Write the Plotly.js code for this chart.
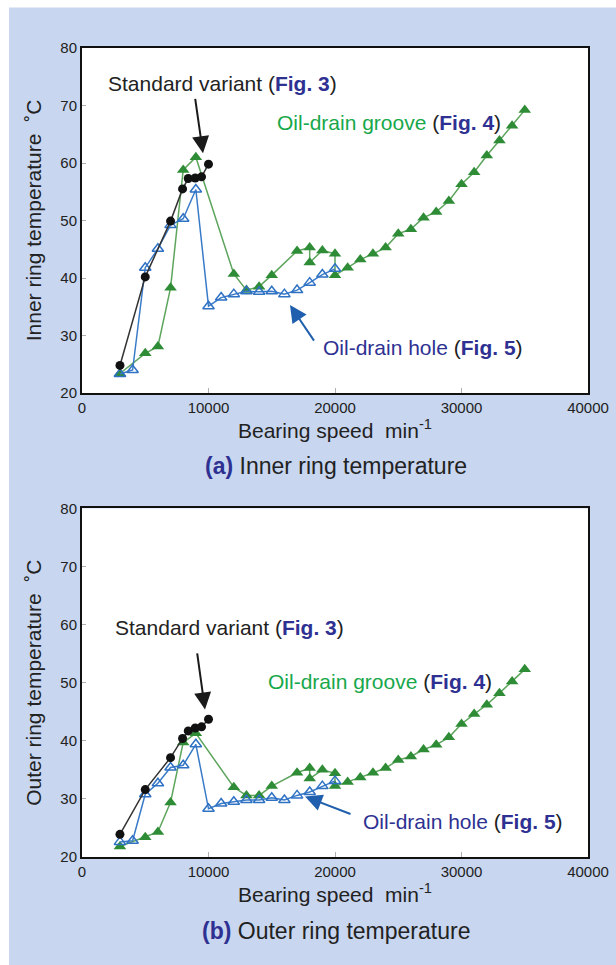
<!DOCTYPE html>
<html>
<head>
<meta charset="utf-8">
<script src="https://cdn.plot.ly/plotly-3.0.1.min.js"></script>
<style>html,body{margin:0;padding:0;background:#fff;}#chart{width:616px;height:965px;}</style>
</head>
<body>
<div id="chart"></div>
<script>
// ---- data ----
const speedStd = [3000, 5000, 7000, 7950, 8400, 8950, 9450, 10000];
const innerStd = [24.8, 40.2, 49.9, 55.5, 57.3, 57.4, 57.6, 59.8];
const outerStd = [23.9, 31.6, 37.1, 40.4, 41.7, 42.2, 42.4, 43.7];

const speedGroove = [3000, 5000, 6000, 7000, 8000, 9000, 12000, 13000, 14000, 15000,
  17000, 18000, 18000, 19000, 20000, 20000, 21000, 22000, 23000, 24000, 25000,
  26000, 27000, 28000, 29000, 30000, 31000, 32000, 33000, 34000, 35000];
const innerGroove = [23.4, 26.9, 28.1, 38.3, 58.8, 61.0, 40.7, 37.9, 38.5, 40.5,
  44.7, 45.3, 42.7, 44.8, 44.2, 40.5, 41.8, 43.2, 44.2, 45.3, 47.7,
  48.5, 50.5, 51.5, 53.4, 56.3, 58.4, 61.3, 63.9, 66.5, 69.2];
const outerGroove = [21.8, 23.4, 24.3, 29.4, 39.7, 41.3, 32.0, 30.6, 30.6, 32.2,
  34.5, 35.3, 33.5, 35.0, 34.4, 32.2, 32.9, 33.7, 34.5, 35.3, 36.7,
  37.3, 38.5, 39.3, 40.6, 42.9, 44.6, 46.2, 48.2, 50.2, 52.3];

const speedHole = [3000, 4000, 5000, 6000, 7000, 8000, 9000, 10000, 11000, 12000,
  13000, 14000, 15000, 16000, 17000, 18000, 19000, 20000];
const innerHole = [23.3, 24.0, 41.8, 45.1, 49.2, 50.3, 55.4, 35.1, 36.6, 37.2,
  37.7, 37.6, 37.7, 37.2, 37.9, 39.2, 40.6, 41.6];
const outerHole = [22.6, 22.8, 30.8, 32.7, 35.4, 35.8, 39.4, 28.3, 29.2, 29.5,
  29.8, 29.8, 30.2, 29.8, 30.6, 31.2, 32.2, 33.1];

const xTickVals = [0, 10000, 20000, 30000, 40000];
const xTickText = ['0', '10000', '20000', '30000', '40000'];
const yTickVals = [20, 30, 40, 50, 60, 70, 80];
const yTickText = ['20', '30', '40', '50', '60', '70', '80'];
const xTitle = 'Bearing speed\u00a0\u00a0min<sup>-1</sup>';
const yTitleInner = 'Inner ring temperature \u00a0\u02daC';
const yTitleOuter = 'Outer ring temperature \u00a0\u02daC';
const captionA = '<b><span style="color:#2e3192">(a)</span></b> Inner ring temperature';
const captionB = '<b><span style="color:#2e3192">(b)</span></b> Outer ring temperature';
const NAVY = '#2e3192';
const labelStd = 'Standard variant (<b><span style="color:' + NAVY + '">Fig.\u00a03</span></b>)';
const labelGroove = '<span style="color:#17a84b">Oil-drain groove</span> (<b><span style="color:' + NAVY + '">Fig.\u00a04</span></b>)';
const labelHole = '<span style="color:' + NAVY + '">Oil-drain hole</span> (<b><span style="color:' + NAVY + '">Fig.\u00a05</span></b>)';

// ---- styles ----
const FONT = 'Liberation Sans, Arial, Helvetica, sans-serif';
const stdStyle = {mode: 'lines+markers', line: {color: '#333', width: 1.5},
  marker: {symbol: 'circle', size: 9, color: '#111'}};
const grooveStyle = {mode: 'lines+markers', line: {color: '#5da55d', width: 1.5},
  marker: {symbol: 'triangle-up', size: 11, color: '#2f8c36'}};
const holeStyle = {mode: 'lines+markers', line: {color: '#3a7bc8', width: 1.5},
  marker: {symbol: 'triangle-up-open', size: 10, color: '#2f72c4', line: {width: 1.5}}};

function tr(x, y, style, xa, ya, name) {
  return Object.assign({type: 'scatter', x: x, y: y, xaxis: xa, yaxis: ya, name: name,
    showlegend: false, hoverinfo: 'x+y'}, JSON.parse(JSON.stringify(style)));
}

const data = [
  tr(speedGroove, innerGroove, grooveStyle, 'x', 'y', 'Oil-drain groove'),
  tr(speedHole, innerHole, holeStyle, 'x', 'y', 'Oil-drain hole'),
  tr(speedStd, innerStd, stdStyle, 'x', 'y', 'Standard variant'),
  tr(speedGroove, outerGroove, grooveStyle, 'x2', 'y2', 'Oil-drain groove'),
  tr(speedHole, outerHole, holeStyle, 'x2', 'y2', 'Oil-drain hole'),
  tr(speedStd, outerStd, stdStyle, 'x2', 'y2', 'Standard variant')
];

function xAxis(anchor) {
  return {anchor: anchor, domain: [0, 1], range: [0, 40000], tickmode: 'array',
    tickvals: xTickVals, ticktext: xTickText,
    ticks: 'inside', ticklen: 5, tickcolor: '#b0b0b0', showline: true, linecolor: '#111',
    linewidth: 2, mirror: true, showgrid: false, zeroline: false, fixedrange: true,
    tickfont: {family: FONT, size: 15, color: '#222'},
    title: {text: xTitle, font: {family: FONT, size: 21, color: '#222'}, standoff: 8}};
}
function yAxis(anchor, dom, title) {
  return {anchor: anchor, domain: dom, range: [20, 80], tickmode: 'array',
    tickvals: yTickVals, ticktext: yTickText,
    ticks: 'inside', ticklen: 4, tickcolor: '#b0b0b0', showline: true, linecolor: '#111',
    linewidth: 2, mirror: true, showgrid: false, zeroline: false, fixedrange: true,
    tickfont: {family: FONT, size: 15, color: '#222'},
    title: {text: title, font: {family: FONT, size: 21, color: '#222'}, standoff: 13}};
}

function arrow(x, y, ax, ay, xr, yr, color) {
  return {x: x, y: y, ax: ax, ay: ay, xref: xr, yref: yr, axref: xr, ayref: yr,
    text: '', showarrow: true, arrowhead: 2, arrowsize: 1.7, arrowwidth: 2, arrowcolor: color};
}
function label(text, x, y, xr, yr) {
  return {text: text, x: x, y: y, xref: xr, yref: yr, showarrow: false,
    font: {family: FONT, size: 21, color: '#222'}, xanchor: 'center', yanchor: 'middle'};
}

const layout = {
  width: 616, height: 965,
  margin: {l: 82, r: 28, t: 47.5, b: 107.5, autoexpand: false},
  paper_bgcolor: '#c8d6ef', plot_bgcolor: '#ffffff',
  font: {family: FONT, color: '#222'},
  showlegend: false,
  xaxis: xAxis('y'),
  yaxis: yAxis('x', [0.5735, 1], yTitleInner),
  xaxis2: xAxis('y2'),
  yaxis2: yAxis('x2', [0, 0.4309], yTitleOuter),
  shapes: [
    {type: 'rect', xref: 'paper', yref: 'paper', x0: -0.2, x1: (9 - 82) / 506, y0: -0.2, y1: 1.2,
      fillcolor: '#ffffff', line: {width: 0}, layer: 'below'},
    {type: 'rect', xref: 'paper', yref: 'paper', x0: -0.2, x1: 1.2, y0: (857.5 - 7) / 810, y1: 1.2,
      fillcolor: '#ffffff', line: {width: 0}, layer: 'below'}
  ],
  annotations: [
    label(labelStd, 11067, 73.8, 'x', 'y'),
    arrow(9565, 61.7, 8933, 71.4, 'x', 'y', '#1a1a1a'),
    label(labelGroove, 24229, 67.1, 'x', 'y'),
    label(labelHole, 26957, 28.0, 'x', 'y'),
    arrow(16443, 35.3, 18419, 28.85, 'x', 'y', '#1f5fae'),
    label(labelStd, 11621, 59.45, 'x2', 'y2'),
    arrow(9723, 45.4, 9091, 55.3, 'x2', 'y2', '#1a1a1a'),
    label(labelGroove, 23557, 50.2, 'x2', 'y2'),
    label(labelHole, 30119, 26.05, 'x2', 'y2'),
    arrow(17628, 30.4, 21344, 27.3, 'x2', 'y2', '#1f5fae'),
    {text: captionA, x: 0.502, y: (857.5 - 466) / 810, xref: 'paper', yref: 'paper',
      showarrow: false, font: {family: FONT, size: 23, color: '#222'}, xanchor: 'center', yanchor: 'middle'},
    {text: captionB, x: 0.502, y: (857.5 - 932) / 810, xref: 'paper', yref: 'paper',
      showarrow: false, font: {family: FONT, size: 23, color: '#222'}, xanchor: 'center', yanchor: 'middle'}
  ]
};

Plotly.newPlot('chart', data, layout, {staticPlot: true, displayModeBar: false});
</script>
</body>
</html>
